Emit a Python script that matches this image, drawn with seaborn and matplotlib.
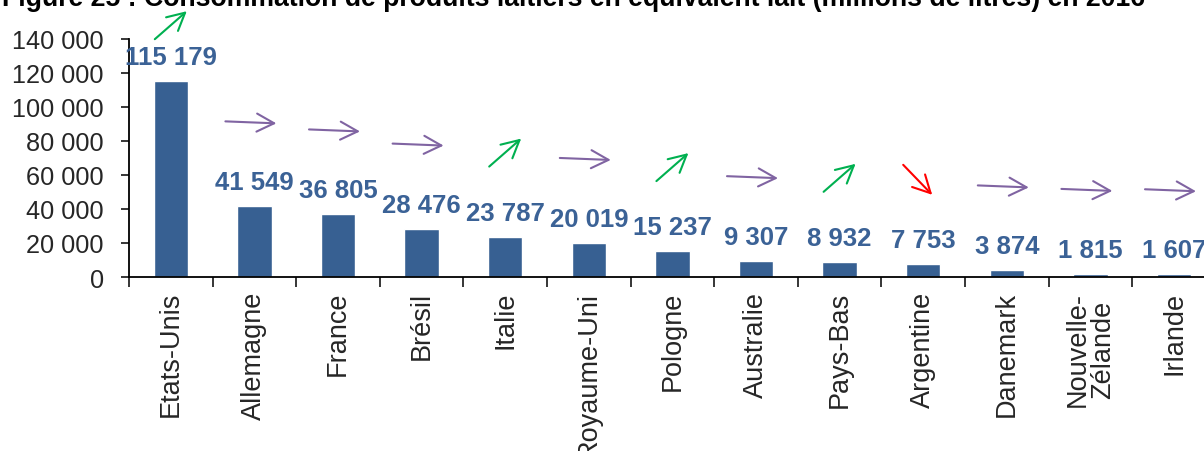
import matplotlib
matplotlib.use("Agg")
import matplotlib.pyplot as plt
from matplotlib.transforms import offset_copy
import seaborn as sns

# ------------------------
# Data
# ------------------------
countries = ["Etats-Unis", "Allemagne", "France", "Brésil", "Italie", "Royaume-Uni",
             "Pologne", "Australie", "Pays-Bas", "Argentine", "Danemark",
             "Nouvelle-\nZélande", "Irlande"]
volumes = [115179, 41549, 36805, 28476, 23787, 20019, 15237, 9307, 8932, 7753,
           3874, 1815, 1607]
trends = ["up", "flat", "flat", "flat", "up", "flat", "up", "flat", "up", "down",
          "flat", "flat", "flat"]
yticks = [0, 20000, 40000, 60000, 80000, 100000, 120000, 140000]
title = ("Figure 25 : Consommation de produits laitiers en équivalent lait "
         "(millions de litres) en 2016")

BAR_COLOR = "#376092"
LABEL_COLOR = "#3B6296"
TREND_COLORS = {"up": "#00B050", "flat": "#8064A2", "down": "#FF0000"}
# arrow tail / tip offsets (pixels) around the arrow centre
TREND_SHAPES = {"up": ((-16, -14), (16, 14)),
                "flat": ((-29, 1), (22, -1)),
                "down": ((-20, 15), (9, -15))}

sns.set_style("white")
plt.rcParams["font.family"] = ["Liberation Sans", "DejaVu Sans"]

# ------------------------
# Plotting
# ------------------------
fig = plt.figure(figsize=(12.04, 4.52), dpi=100)
ax = fig.add_axes([129 / 1204, 174 / 452, 13 * 83.6 / 1204, 238 / 452])

sns.barplot(x=countries, y=volumes, color=BAR_COLOR, saturation=1, width=0.41, ax=ax)

ax.set_ylim(0, 140000)
ax.set_xlim(-0.5, len(countries) - 0.5)
ax.set_yticks(yticks)
ax.set_yticklabels([f"{t:,}".replace(",", " ") for t in yticks], fontsize=18.2)
ax.tick_params(axis="y", direction="out", length=6, width=1.3, pad=12, left=True)

# ticks between categories, labels at centres
ax.set_xticks([i - 0.5 for i in range(len(countries) + 1)])
ax.set_xticklabels([])
ax.set_xticks(range(len(countries)), minor=True)
ax.set_xticklabels(countries, minor=True, rotation=90, fontsize=19.5,
                   ha="center", va="top", linespacing=0.95)
ax.tick_params(axis="x", which="major", direction="out", length=7, width=1.3, bottom=True)
ax.tick_params(axis="x", which="minor", length=0, pad=10)

for side in ["top", "right"]:
    ax.spines[side].set_visible(False)
for side in ["left", "bottom"]:
    ax.spines[side].set_color("black")
    ax.spines[side].set_linewidth(1.3)
ax.set_xlabel("")
ax.set_ylabel("")

# value labels and trend arrows
for i, (v, tr) in enumerate(zip(volumes, trends)):
    ax.annotate(f"{v:,}".replace(",", " "), (i, v), xytext=(0, 24),
                textcoords="offset pixels", ha="center", va="center",
                fontsize=18.5, fontweight="bold", color=LABEL_COLOR,
                annotation_clip=False)
    rise = 56 if v == max(volumes) else 84
    (tx, ty), (hx, hy) = TREND_SHAPES[tr]
    tip_tr = offset_copy(ax.transData, fig=fig, x=hx, y=rise + hy, units="dots")
    ax.annotate("", xy=(i, v), xycoords=tip_tr,
                xytext=(tx - hx, ty - hy), textcoords="offset pixels",
                arrowprops=dict(arrowstyle="->,head_length=1.25,head_width=0.65",
                                color=TREND_COLORS[tr], lw=1.5,
                                shrinkA=0, shrinkB=0),
                annotation_clip=False)

fig.text(0.002, 1 - 6 / 452, title, fontsize=19.2, fontweight="bold",
         ha="left", va="baseline", color="black")

fig.savefig("out.png", dpi=100)
